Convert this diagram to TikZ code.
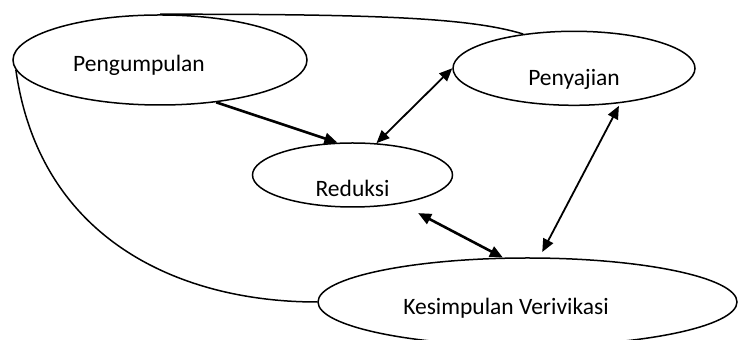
\documentclass[tikz,border=0pt]{standalone}
\usepackage{fontspec}
\setmainfont{Carlito}
\usetikzlibrary{shapes.geometric,arrows.meta}
\tikzset{
	elps/.style={ellipse,draw,line width=0.75pt,inner sep=0pt},
	lbl/.style={font=\fontsize{11.75}{14}\selectfont,inner sep=0pt},
	arr/.style={-{Triangle[length=6.5pt,width=5.5pt]}},
	dbl/.style={{Triangle[length=6.5pt,width=5.5pt]}-{Triangle[length=6.5pt,width=5.5pt]}},
}

\begin{document}
\begin{tikzpicture}[x=0.5pt,y=-0.5pt]
			\useasboundingbox (0,0) rectangle (738,340);
			%% elips
			\node[elps,minimum width=147pt,minimum height=45pt,label={[lbl,xshift=-10.5pt,yshift=-2.75pt]center:Pengumpulan}] (pg) at (160,60) {};
			\node[elps,minimum width=121pt,minimum height=37pt,label={[lbl,yshift=-5.75pt]center:Penyajian}] (pj) at (574,68.3) {};
			\node[elps,minimum width=100pt,minimum height=32pt,label={[lbl,yshift=-6.5pt]center:Reduksi}] (rd) at (352.5,175) {};
			\node[elps,minimum width=209.5pt,minimum height=44pt,label={[lbl,xshift=-10.75pt,yshift=-3.25pt]center:Kesimpulan Verivikasi}] (ks) at (527.5,302) {};
			% garis lengkung
			\draw[line width=0.75pt] (pg.north) .. controls (380,14) and (470,18) .. (pj.146);
			\draw[line width=0.75pt] (pg.184) .. controls (40,240) and (180,302) .. (ks.west);
			% panah
			\draw[arr,line width=1.3pt] (pg.-37) -- (rd.115);
			\draw[dbl,line width=0.9pt] (rd.53) -- (pj.west);
			\draw[dbl,line width=1.3pt,shorten <=10pt] (rd.-31) -- (ks.119);
			\draw[dbl,line width=0.9pt,shorten <=1.5pt,shorten >=3pt] (pj.-37) -- (ks.75);
		\end{tikzpicture}
\end{document}
